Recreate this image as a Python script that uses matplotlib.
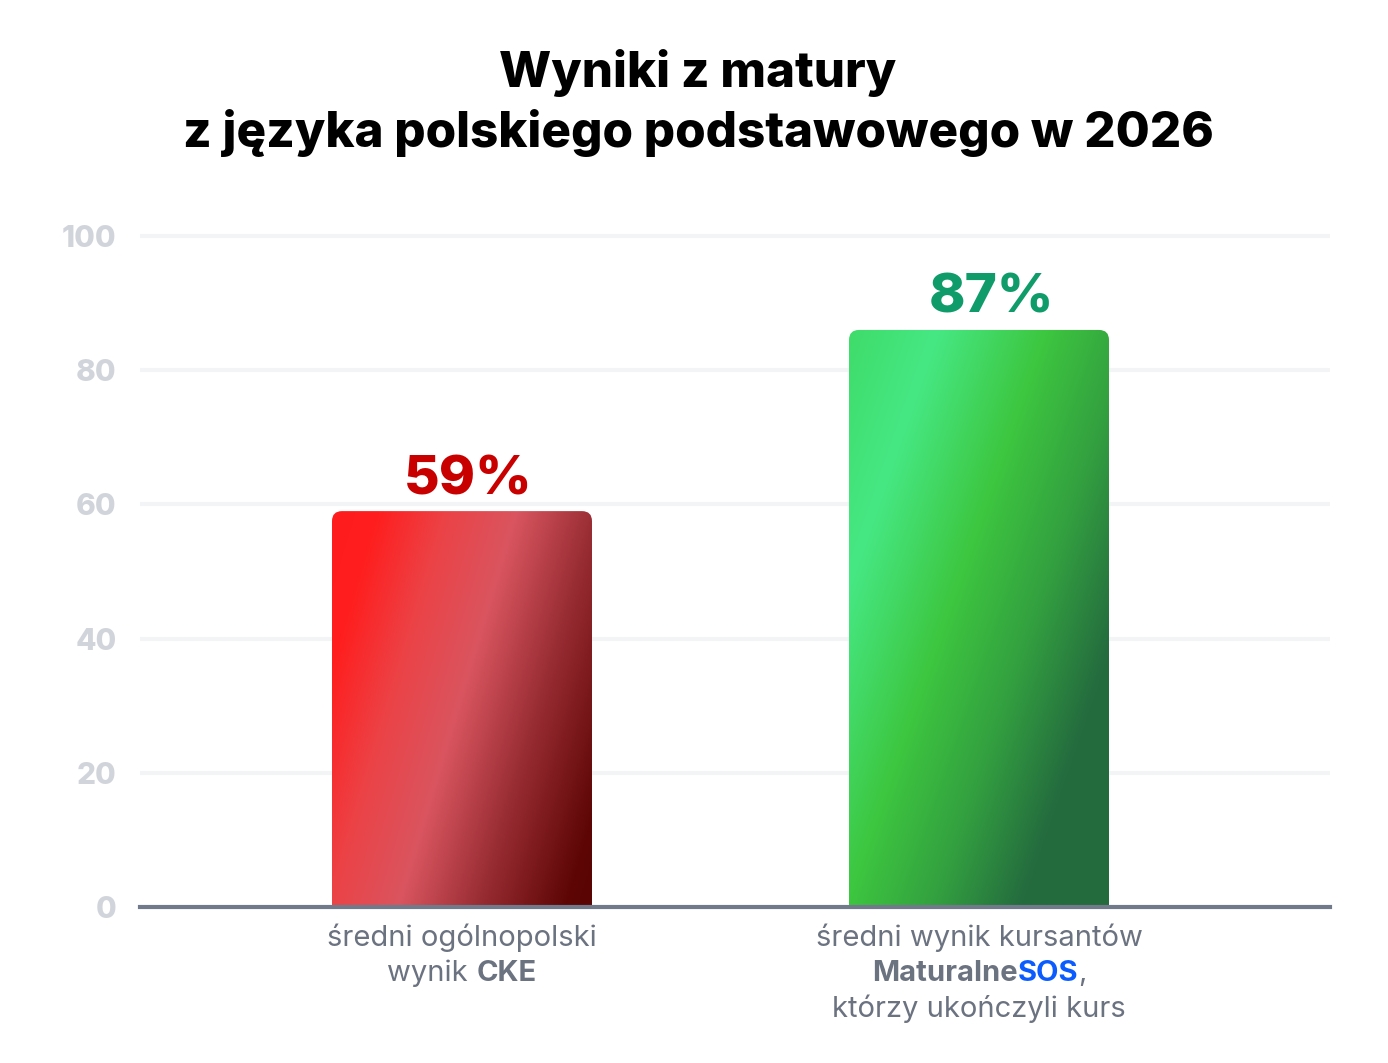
import matplotlib
matplotlib.use("Agg")
import matplotlib.pyplot as plt
import numpy as np
from matplotlib.colors import LinearSegmentedColormap
from matplotlib.patches import FancyBboxPatch

# Dane
categories = ["CKE", "MaturalneSOS"]
values = [59, 86]
value_labels = ["59%", "87%"]
yticks = [0, 20, 40, 60, 80, 100]
title_lines = ["Wyniki z matury", "z języka polskiego podstawowego w 2026"]

# Podpisy osi x: (tekst, grubość, kolor) dla każdej linii
GREY = "#6b7280"
BLUE = "#0b5cff"
xlabel_lines = [
    [
        [("średni ogólnopolski", "normal", GREY)],
        [("wynik", "normal", GREY), (" ", "normal", GREY), ("CKE", "bold", GREY)],
    ],
    [
        [("średni wynik kursantów", "normal", GREY)],
        [("Maturalne", "bold", GREY), ("SOS", "bold", BLUE), (",", "normal", GREY)],
        [("którzy ukończyli kurs", "normal", GREY)],
    ],
]

value_colors = ["#c80000", "#0f9c6a"]
gradients = [
    # (kierunek gradientu w pikselach, przystanki kolorów)
    ((400, 120), [(0.0, "#ff1c1c"), (0.12, "#ff1e1e"), (0.3, "#ec4246"),
                  (0.49, "#d9555f"), (0.7, "#992d34"), (0.93, "#5e0606"), (1.0, "#5a0404")]),
    ((467, 163), [(0.0, "#3fdc6a"), (0.19, "#46e884"), (0.43, "#3dc63f"),
                  (0.62, "#33a040"), (0.81, "#246b3e"), (1.0, "#236a3d")]),
]

W, H = 1388, 1063
DPI = 100
FONT = "Inter"

fig = plt.figure(figsize=(W / DPI, H / DPI), dpi=DPI)
fig.patch.set_facecolor("white")

# Obszar wykresu w pikselach
left_px, right_px = 140, 1330
y0_px, y100_px = 907, 236
ppu_y = (y0_px - y100_px) / 100.0
ytop = 106
top_px = y0_px - ytop * ppu_y
ax = fig.add_axes([left_px / W, (H - y0_px) / H, (right_px - left_px) / W, (y0_px - top_px) / H])

xc = [462, 979]
ppu_x = xc[1] - xc[0]

for s in ["top", "right", "left"]:
    ax.spines[s].set_visible(False)
ax.spines["bottom"].set_color("#707a8b")
ax.spines["bottom"].set_linewidth(3)
ax.spines["bottom"].set_zorder(5)

ax.set_yticks(yticks)
ax.set_yticklabels([str(t) for t in yticks], fontsize=21.5, fontweight="heavy",
                   color="#d1d5db", family=FONT)
ax.tick_params(axis="y", length=0, pad=17)
ax.set_xticks([])
for t in yticks[1:]:
    ax.axhline(t, color="#f3f4f6", linewidth=3, zorder=0)

# Słupki z gradientem i zaokrąglonymi rogami
bar_w = 260 / ppu_x
radius_px = 10
for i, v in enumerate(values):
    (dx, dy), stops = gradients[i]
    cmap = LinearSegmentedColormap.from_list(f"g{i}", stops)
    bw_px, bh_px = 260, v * ppu_y
    u = np.linspace(0, bw_px, 200)
    w_ = np.linspace(0, bh_px, 300)
    U, V = np.meshgrid(u, w_)
    tval = (dx * U + dy * V) / (dx * bw_px + dy * bh_px)
    x0 = i - bar_w / 2
    im = ax.imshow(tval, cmap=cmap, vmin=0, vmax=1, aspect="auto",
                   extent=[x0, x0 + bar_w, 0, v], origin="upper", zorder=2,
                   interpolation="bilinear")
    patch = FancyBboxPatch((x0, -5), bar_w, v + 5,
                           boxstyle=f"round,pad=0,rounding_size={radius_px / ppu_x}",
                           mutation_aspect=ppu_x / ppu_y, transform=ax.transData,
                           facecolor="none", edgecolor="none")
    ax.add_patch(patch)
    im.set_clip_path(patch)
    ax.annotate(value_labels[i], xy=(i, v), xytext=(6 if i == 0 else 12, 17),
                textcoords="offset pixels", ha="center", va="baseline",
                fontsize=39.5, fontweight="heavy", color=value_colors[i],
                family=FONT, annotation_clip=False)
ax.set_xlim(-(xc[0] - left_px) / ppu_x, 1 + (right_px - xc[1]) / ppu_x)
ax.set_ylim(0, ytop)

# Tytuł
title_base = [87, 147]
for line, yb in zip(title_lines, title_base):
    fig.text(698 / W, (H - yb) / H, line, ha="center", va="baseline",
             fontsize=35.5, fontweight="heavy", color="black", family=FONT)

# Podpisy wielokolorowe pod słupkami
fig.canvas.draw()
renderer = fig.canvas.get_renderer()


def text_width(s, weight, size):
    if s == " ":
        a = fig.text(0, 0, "x x", fontsize=size, fontweight=weight, family=FONT)
        b = fig.text(0, 0, "xx", fontsize=size, fontweight=weight, family=FONT)
        wdt = a.get_window_extent(renderer).width - b.get_window_extent(renderer).width
        a.remove()
        b.remove()
        return wdt
    t = fig.text(0, 0, s, fontsize=size, fontweight=weight, family=FONT)
    wdt = t.get_window_extent(renderer).width
    t.remove()
    return wdt


label_size = 21
label_base = [946, 981, 1017]
for i, lines in enumerate(xlabel_lines):
    for j, parts in enumerate(lines):
        widths = [text_width(s, wt, label_size) for s, wt, c in parts]
        x = xc[i] - sum(widths) / 2
        for (s, wt, c), wd in zip(parts, widths):
            if s.strip():
                fig.text(x / W, (H - label_base[j]) / H, s, ha="left", va="baseline",
                         fontsize=label_size, fontweight=wt, color=c, family=FONT)
            x += wd

fig.savefig("out.png", dpi=DPI, facecolor="white")
